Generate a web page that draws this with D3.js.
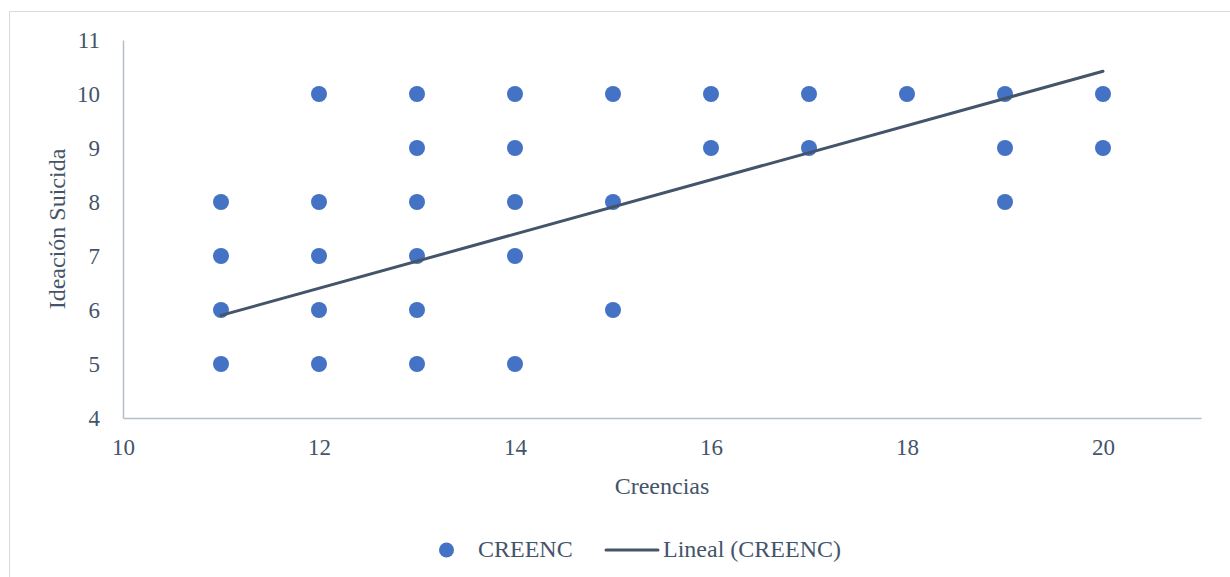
<!DOCTYPE html>
<html><head><meta charset="utf-8">
<script src="https://cdn.jsdelivr.net/npm/d3@7"></script>
<style>body{margin:0;background:#fff}svg{display:block}text{font-family:"Liberation Serif","Times New Roman",serif;fill:#44546a}</style>
</head><body>
<svg id="c" width="1230" height="577"></svg>
<script>
const xs = [11,11,11,11, 12,12,12,12,12, 13,13,13,13,13,13, 14,14,14,14,14, 15,15,15, 16,16, 17,17, 18, 19,19,19, 20,20];
const ys = [5,6,7,8, 5,6,7,8,10, 5,6,7,8,9,10, 5,7,8,9,10, 6,8,10, 9,10, 9,10, 10, 8,9,10, 9,10];
const trendX = [11, 20];
const trendY = [5.9, 10.42];
const xTicks = [10,12,14,16,18,20];
const yTicks = [4,5,6,7,8,9,10,11];
const seriesName = "CREENC";
const trendName = "Lineal (CREENC)";
const xTitle = "Creencias";
const yTitle = "Ideación Suicida";

const svg = d3.select("#c");
svg.append("path").attr("d","M9.5,577 V11.5 H1230").attr("fill","none").attr("stroke","#d9d9d9").attr("stroke-width",1);
const x = d3.scaleLinear().domain([10,21]).range([123,1201]);
const y = d3.scaleLinear().domain([4,11]).range([418,40]);

const axisColor = "#b4bdcc";
const gx = svg.append("g").attr("transform","translate(0,418)")
  .call(d3.axisBottom(x).tickValues(xTicks).tickFormat(d3.format("d")).tickSize(0));
gx.select(".domain").attr("stroke",axisColor).attr("stroke-width",1.5);
gx.selectAll("text").attr("font-size",23).attr("y",37).attr("dy",null).style("font-family","Liberation Serif").attr("fill","#44546a");
const gy = svg.append("g").attr("transform","translate(123,0)")
  .call(d3.axisLeft(y).tickValues(yTicks).tickFormat(d3.format("d")).tickSize(0).tickPadding(23));
gy.select(".domain").attr("stroke",axisColor).attr("stroke-width",1.5);
gy.selectAll("text").attr("font-size",23).style("font-family","Liberation Serif").attr("fill","#44546a");

svg.append("g").selectAll("circle").data(xs.map((v,i)=>[v,ys[i]])).join("circle")
  .attr("cx",d=>x(d[0])).attr("cy",d=>y(d[1])).attr("r",8).attr("fill","#4472c4");

svg.append("path").datum(trendX.map((v,i)=>[v,trendY[i]]))
  .attr("d",d3.line().x(d=>x(d[0])).y(d=>y(d[1])))
  .attr("stroke","#44546a").attr("stroke-width",3).attr("fill","none").attr("stroke-linecap","round");

svg.append("text").attr("x",662).attr("y",494).attr("text-anchor","middle").attr("font-size",24).text(xTitle);
svg.append("text").attr("transform","translate(65,229) rotate(-90)").attr("text-anchor","middle").attr("font-size",24).text(yTitle);

const lg = svg.append("g");
lg.append("circle").attr("cx",446.5).attr("cy",550).attr("r",7.5).attr("fill","#4472c4");
lg.append("text").attr("x",478).attr("y",557).attr("font-size",24).text(seriesName);
lg.append("line").attr("x1",606).attr("x2",658).attr("y1",550).attr("y2",550).attr("stroke","#44546a").attr("stroke-width",3).attr("stroke-linecap","round");
lg.append("text").attr("x",663).attr("y",557).attr("font-size",24).text(trendName);
</script>
</body></html>
